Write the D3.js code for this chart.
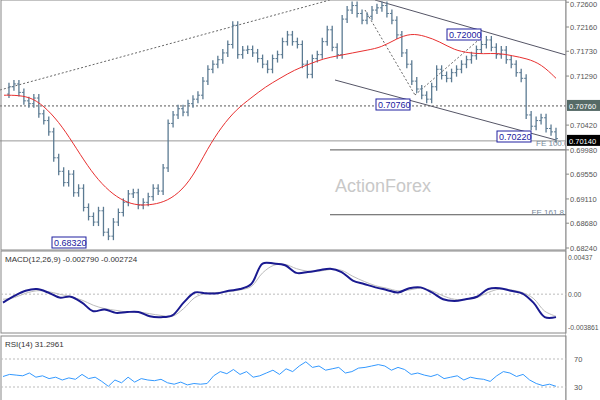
<!DOCTYPE html><html><head><script src="https://cdn.jsdelivr.net/npm/d3@7"></script>
<style>body{margin:0;background:#fff}</style></head><body><svg id="c" width="600" height="400"></svg>
<script>
const closes=[0.7097,0.7110,0.7115,0.7100,0.7085,0.7080,0.7090,0.7062,0.7050,0.7030,0.6984,0.6960,0.6940,0.6955,0.6922,0.6930,0.6896,0.6880,0.6870,0.6890,0.6852,0.6845,0.6870,0.6887,0.6905,0.6920,0.6922,0.6900,0.6905,0.6915,0.6930,0.6925,0.6966,0.7045,0.7060,0.7071,0.7065,0.7080,0.7088,0.7095,0.7120,0.7141,0.7150,0.7158,0.7170,0.7185,0.7219,0.7167,0.7175,0.7176,0.7170,0.7160,0.7150,0.7141,0.7160,0.7167,0.7190,0.7202,0.7190,0.7185,0.7150,0.7132,0.7160,0.7167,0.7190,0.7211,0.7180,0.7167,0.7230,0.7246,0.7254,0.7240,0.7228,0.7235,0.7246,0.7250,0.7254,0.7240,0.7228,0.7202,0.7170,0.7150,0.7120,0.7106,0.7095,0.7088,0.7110,0.7141,0.7130,0.7125,0.7135,0.7141,0.7150,0.7158,0.7165,0.7176,0.7185,0.7193,0.7180,0.7167,0.7175,0.7158,0.7150,0.7135,0.7125,0.7060,0.7040,0.7050,0.7055,0.7036,0.7030,0.7018];
const ma=[0.7095,0.7095,0.7090,0.7070,0.7040,0.7000,0.6960,0.6930,0.6910,0.6900,0.6900,0.6905,0.6920,0.6950,0.7000,0.7040,0.7070,0.7090,0.7110,0.7125,0.7140,0.7150,0.7160,0.7165,0.7170,0.7175,0.7180,0.7195,0.7205,0.7200,0.7190,0.7175,0.7170,0.7168,0.7170,0.7165,0.7160,0.7150,0.7125];
const ticks=[0.72600,0.72160,0.71730,0.71290,0.70850,0.70420,0.69980,0.69550,0.69110,0.68680,0.68240];
const macd=[-0.0010,-0.0002,0.0004,0.0006,0.0002,-0.0004,-0.0003,-0.0010,-0.0020,-0.0018,-0.0022,-0.0021,-0.0021,-0.0026,-0.0027,-0.0025,-0.0010,0.0002,0.0001,0.0001,0.0004,0.0006,0.0012,0.0036,0.0036,0.0034,0.0025,0.0026,0.0028,0.0030,0.0026,0.0016,0.0012,0.0008,0.0005,0.0002,0.0007,0.0008,0.0002,-0.0006,-0.0008,-0.0006,-0.0003,0.0006,0.0007,0.0004,0.0001,-0.0010,-0.0027,-0.0027];
const macdSig=[-0.0006,-0.0004,0.0001,0.0004,0.0003,0.0000,-0.0003,-0.0007,-0.0013,-0.0017,-0.0019,-0.0021,-0.0021,-0.0023,-0.0025,-0.0026,-0.0017,-0.0004,0.0001,0.0002,0.0003,0.0005,0.0009,0.0025,0.0034,0.0035,0.0030,0.0027,0.0027,0.0029,0.0028,0.0021,0.0015,0.0010,0.0007,0.0004,0.0005,0.0007,0.0004,-0.0002,-0.0006,-0.0006,-0.0004,0.0002,0.0006,0.0005,0.0002,-0.0005,-0.0020,-0.0026];
const rsi=[45,48,47,46,50,44,46,42,44,40,43,41,48,42,44,38,31,40,36,44,37,42,40,39,41,36,34,37,33,35,34,35,46,52,49,55,48,52,44,46,50,54,48,56,52,60,66,58,60,54,56,58,50,52,57,58,60,62,60,54,58,55,48,50,47,45,48,42,44,46,40,44,42,41,38,46,52,50,45,48,40,35,32,34,31];
const svg=d3.select("#c");
const W=566, F="Liberation Sans, Arial";
const y=d3.scaleLinear().domain([0.6824,0.7216]).range([248,27]);
const x=d3.scaleLinear().domain([0,closes.length-1]).range([4,556]);
const g=svg.append("g");
const ln=(x1,y1,x2,y2,c,da)=>g.append("line").attr("x1",x1).attr("y1",y1).attr("x2",x2).attr("y2",y2).attr("stroke",c).attr("stroke-dasharray",da||null);
ln(0,90,330,0,"#666","2,2");
ln(375,0,W,55,"#556");
ln(335,80,556,140,"#556");
ln(365,10,415,95,"#666","2,2");ln(415,95,482,37,"#666","2,2");
ln(0,y(0.7076),W,y(0.7076),"#555","2,2");
ln(0,y(0.7014),W,y(0.7014),"#999");
ln(330,y(0.6998),W,y(0.6998),"#555");
ln(330,y(0.6883),W,y(0.6883),"#555");
g.append("text").attr("x",383).attr("y",192).attr("text-anchor","middle").attr("font-family",F).attr("font-size",18).attr("fill","#c8c8c8").text("ActionForex");
g.append("text").attr("x",536).attr("y",146).attr("font-size",8).attr("font-family",F).attr("fill","#789").text("FE 100.0");
g.append("text").attr("x",564).attr("y",215).attr("text-anchor","end").attr("font-size",8).attr("font-family",F).attr("fill","#789").text("FE 161.8");
closes.forEach((c,i)=>{if(!i)return;const o=closes[i-1];const hi=Math.max(o,c),lo=Math.min(o,c);
g.append("line").attr("x1",x(i)).attr("x2",x(i)).attr("y1",y(hi)-4).attr("y2",y(lo)+4).attr("stroke","#5b7a92").attr("stroke-width",1.3);
g.append("line").attr("x1",x(i)-2).attr("x2",x(i)).attr("y1",y(o)).attr("y2",y(o)).attr("stroke","#5b7a92");
g.append("line").attr("x1",x(i)).attr("x2",x(i)+2).attr("y1",y(c)).attr("y2",y(c)).attr("stroke","#5b7a92");});
const xm=d3.scaleLinear().domain([0,ma.length-1]).range([4,556]);
g.append("path").attr("d",d3.line().x((d,i)=>xm(i)).y(d=>y(d)).curve(d3.curveBasis)(ma)).attr("fill","none").attr("stroke","#e83030");
const box=(t,bx,by)=>{g.append("rect").attr("x",bx).attr("y",by-9).attr("width",34).attr("height",11).attr("fill","#fff").attr("stroke","#2020a0");
g.append("text").attr("x",bx+2).attr("y",by).attr("font-size",9).attr("font-family",F).attr("fill","#2020a0").text(t);};
box("0.72000",447,38);box("0.70760",376,108);box("0.70220",497,140);box("0.68320",52,246);
svg.append("rect").attr("x",W).attr("y",0).attr("width",34).attr("height",400).attr("fill","#fff");
ln(W,0,W,400,"#888");
const ax=(v,t,yy)=>svg.append("text").attr("x",W+4).attr("y",yy+3).attr("font-size",7.5).attr("font-family",F).attr("fill","#555").text(t);
ticks.forEach(t=>{if(Math.abs(t-0.7085)<1e-6)return;svg.append("line").attr("x1",W).attr("x2",W+3).attr("y1",y(t)).attr("y2",y(t)).attr("stroke","#888");ax(t,t.toFixed(5),Math.max(y(t),4));});
const tag=(t,v,c)=>{svg.append("rect").attr("x",W+1).attr("y",y(v)-6).attr("width",33).attr("height",11).attr("fill",c);
svg.append("text").attr("x",W+3).attr("y",y(v)+3).attr("font-size",7.5).attr("font-family",F).attr("fill","#fff").text(t);};
tag("0.70760",0.7076,"#556a66");tag("0.70140",0.7014,"#000");
svg.append("rect").attr("x",1).attr("y",251).attr("width",W-1).attr("height",82).attr("fill","none").attr("stroke","#888");
svg.append("rect").attr("x",1).attr("y",336).attr("width",W-1).attr("height",70).attr("fill","none").attr("stroke","#888");
svg.append("rect").attr("x",1).attr("y",0).attr("width",W-1).attr("height",250).attr("fill","none").attr("stroke","#888");
const ym=d3.scaleLinear().domain([-0.003861,0.00437]).range([327,257]);
const xmc=d3.scaleLinear().domain([0,macd.length-1]).range([3,556]);
svg.append("line").attr("x1",1).attr("x2",W).attr("y1",ym(0)).attr("y2",ym(0)).attr("stroke","#bbb").attr("stroke-dasharray","2,2");
svg.append("path").attr("d",d3.line().x((d,i)=>xmc(i)).y(d=>ym(d)).curve(d3.curveCatmullRom)(macdSig)).attr("fill","none").attr("stroke","#bbb");
svg.append("path").attr("d",d3.line().x((d,i)=>xmc(i)).y(d=>ym(d)).curve(d3.curveCatmullRom)(macd)).attr("fill","none").attr("stroke","#1a1a90").attr("stroke-width",2);
[[0.00437,"0.00437"],[0,"0.00"],[-0.003861,"-0.003861"]].forEach(([v,t])=>svg.append("text").attr("x",W+2).attr("y",ym(v)+3).attr("font-size",6.8).attr("font-family",F).attr("fill","#555").text(t));
svg.append("text").attr("x",5).attr("y",262).attr("font-size",8).attr("font-family",F).attr("fill","#333").text("MACD(12,26,9) -0.002790 -0.002724");
const yr=d3.scaleLinear().domain([30,70]).range([387,359]);
const xr=d3.scaleLinear().domain([0,rsi.length-1]).range([3,556]);
[30,70].forEach(v=>{svg.append("line").attr("x1",1).attr("x2",W).attr("y1",yr(v)).attr("y2",yr(v)).attr("stroke","#bbb").attr("stroke-dasharray","2,2");
svg.append("text").attr("x",W+8).attr("y",yr(v)+3).attr("font-size",7.5).attr("font-family",F).attr("fill","#555").text(v);});
svg.append("path").attr("d",d3.line().x((d,i)=>xr(i)).y(d=>yr(d))(rsi)).attr("fill","none").attr("stroke","#3399ff");
svg.append("text").attr("x",5).attr("y",347).attr("font-size",8).attr("font-family",F).attr("fill","#333").text("RSI(14) 31.2961");
</script></body></html>
